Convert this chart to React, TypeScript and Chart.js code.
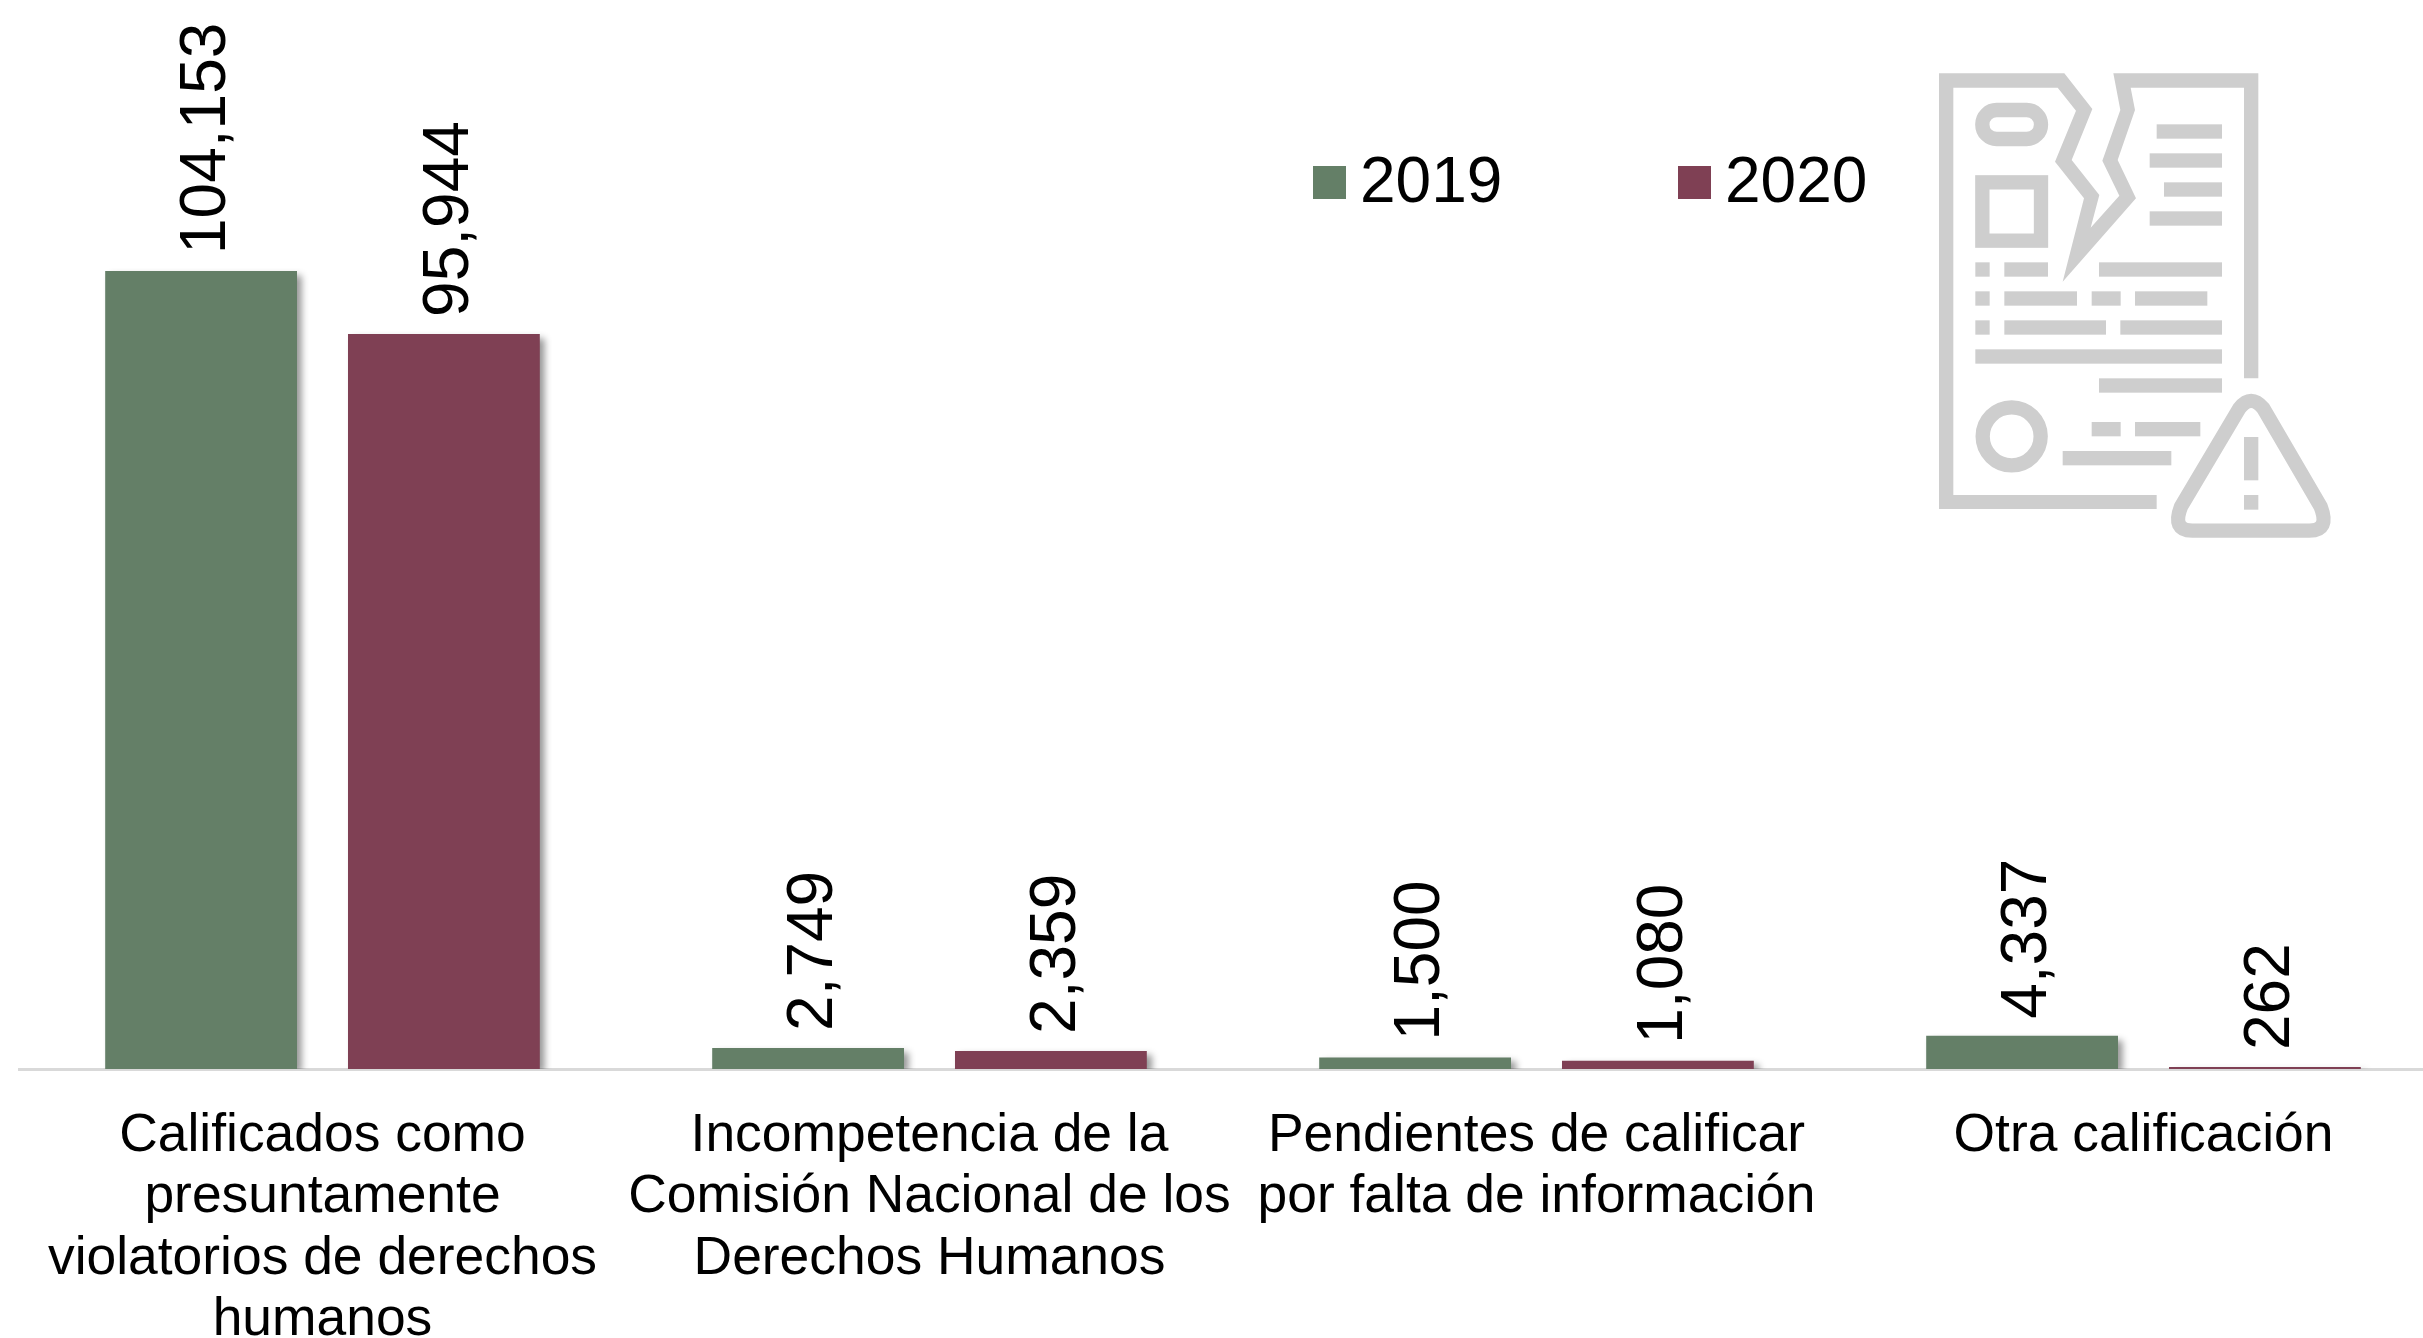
import React, { useEffect, useRef } from "react";
import { Chart, registerables } from "chart.js";

Chart.register(...registerables);

const categories: string[][] = [
  ["Calificados como", "presuntamente", "violatorios de derechos", "humanos"],
  ["Incompetencia de la", "Comisión Nacional de los", "Derechos Humanos"],
  ["Pendientes de calificar", "por falta de información"],
  ["Otra calificación"],
];
const values2019 = [104153, 2749, 1500, 4337];
const values2020 = [95944, 2359, 1080, 262];
const seriesNames = ["2019", "2020"];
const seriesColors = ["#647f67", "#7f4054"];
const FONT = '"Liberation Sans", Arial, sans-serif';

const barShadow = {
  id: "barShadow",
  beforeDatasetDraw(chart: any) {
    const c = chart.ctx;
    c.save();
    c.shadowColor = "rgba(0,0,0,0.42)";
    c.shadowBlur = 7;
    c.shadowOffsetX = 5;
    c.shadowOffsetY = 4;
  },
  afterDatasetDraw(chart: any) {
    chart.ctx.restore();
  },
};

const valueLabels = {
  id: "valueLabels",
  afterDatasetsDraw(chart: any) {
    const c = chart.ctx;
    chart.data.datasets.forEach((ds: any, i: number) => {
      chart.getDatasetMeta(i).data.forEach((bar: any, j: number) => {
        c.save();
        c.translate(bar.x + 6, bar.y - 17);
        c.rotate(-Math.PI / 2);
        c.font = `64px ${FONT}`;
        c.fillStyle = "#000";
        c.textAlign = "left";
        c.textBaseline = "middle";
        c.fillText(Number(ds.data[j]).toLocaleString("en-US"), 0, 0);
        c.restore();
      });
    });
  },
};

const legendAnchors = [1313, 1678];
const overlayLegend = {
  id: "overlayLegend",
  afterDraw(chart: any) {
    const c = chart.ctx;
    chart.data.datasets.forEach((ds: any, i: number) => {
      c.save();
      c.fillStyle = ds.backgroundColor;
      c.fillRect(legendAnchors[i], 166, 33, 33);
      c.font = `64px ${FONT}`;
      c.fillStyle = "#000";
      c.textAlign = "left";
      c.textBaseline = "middle";
      c.fillText(ds.label, legendAnchors[i] + 47, 184);
      c.restore();
    });
  },
};

const ICON = "#cecece";
const iconBlocks = [
  [770, 253, 196, 43], [749, 340, 217, 43], [792, 427, 174, 43], [749, 514, 217, 43],
  [226, 667, 43, 43], [313, 667, 131, 43], [597, 667, 369, 43],
  [226, 754, 43, 43], [313, 754, 218, 43], [575, 754, 87, 43], [705, 754, 217, 43],
  [226, 841, 43, 43], [313, 841, 305, 43], [661, 841, 305, 43],
  [226, 928, 740, 43], [597, 1015, 369, 43],
  [575, 1146, 87, 43], [705, 1146, 196, 43], [488, 1233, 326, 43],
  [1032, 1191, 43, 130], [1032, 1365, 43, 44],
];

function Icon() {
  return (
    <svg
      viewBox="0 0 1440 1560"
      style={{ position: "absolute", left: 1900, top: 40, width: 480, height: 520 }}
    >
      <polygon
        fill={ICON}
        points="117,100 493,100 577,207 515,360 598,465 572,563 658,467 607,362 661,210 640,100 1075,100 1075,1015 1032,1015 1032,143 692,143 705,210 653,360 708,475 488,725 552,475 465,365 528,212 473,143 160,143 160,1365 770,1365 770,1407 117,1407"
      />
      <rect x={247} y={210} width={176} height={87} rx={43} fill="none" stroke={ICON} strokeWidth={43} />
      <rect x={247} y={427} width={176} height={175} fill="none" stroke={ICON} strokeWidth={43} />
      <circle cx={335} cy={1189} r={87} fill="none" stroke={ICON} strokeWidth={43} />
      {iconBlocks.map((b, i) => (
        <rect key={i} x={b[0]} y={b[1]} width={b[2]} height={b[3]} fill={ICON} />
      ))}
      <path
        d="M1018 1105 Q1053 1060 1090 1105 L1262 1400 Q1290 1472 1228 1472 H877 Q815 1472 843 1400 Z"
        fill="none"
        stroke={ICON}
        strokeWidth={43}
        strokeLinejoin="round"
      />
    </svg>
  );
}

export default function App() {
  const ref = useRef<HTMLCanvasElement>(null);
  useEffect(() => {
    const chart = new Chart(ref.current as HTMLCanvasElement, {
      type: "bar",
      data: {
        labels: categories as any,
        datasets: [
          { label: seriesNames[0], data: values2019, backgroundColor: seriesColors[0] },
          { label: seriesNames[1], data: values2020, backgroundColor: seriesColors[1] },
        ],
      },
      plugins: [barShadow, valueLabels, overlayLegend],
      options: {
        responsive: false,
        animation: false,
        layout: { padding: { left: 19, right: 0, top: 4, bottom: 0 } },
        datasets: { bar: { categoryPercentage: 0.8, barPercentage: 0.79 } },
        plugins: { legend: { display: false }, tooltip: { enabled: false } },
        scales: {
          x: {
            grid: { display: false },
            border: { display: true, color: "#d9d9d9", width: 3 },
            afterFit(scale: any) {
              scale.height = 331;
            },
            ticks: {
              autoSkip: false,
              maxRotation: 0,
              minRotation: 0,
              padding: 29,
              color: "#000",
              font: { family: FONT, size: 53.4, lineHeight: 1.145 },
            },
          },
          y: { display: false, min: 0, max: 139000 },
        },
      } as any,
    });
    return () => chart.destroy();
  }, []);
  return (
    <div
      style={{
        position: "fixed",
        left: 0,
        top: 0,
        width: 2423,
        height: 1338,
        overflow: "hidden",
        background: "#fff",
      }}
    >
      <canvas ref={ref} width={2447} height={1400} style={{ display: "block" }} />
      <Icon />
    </div>
  );
}
